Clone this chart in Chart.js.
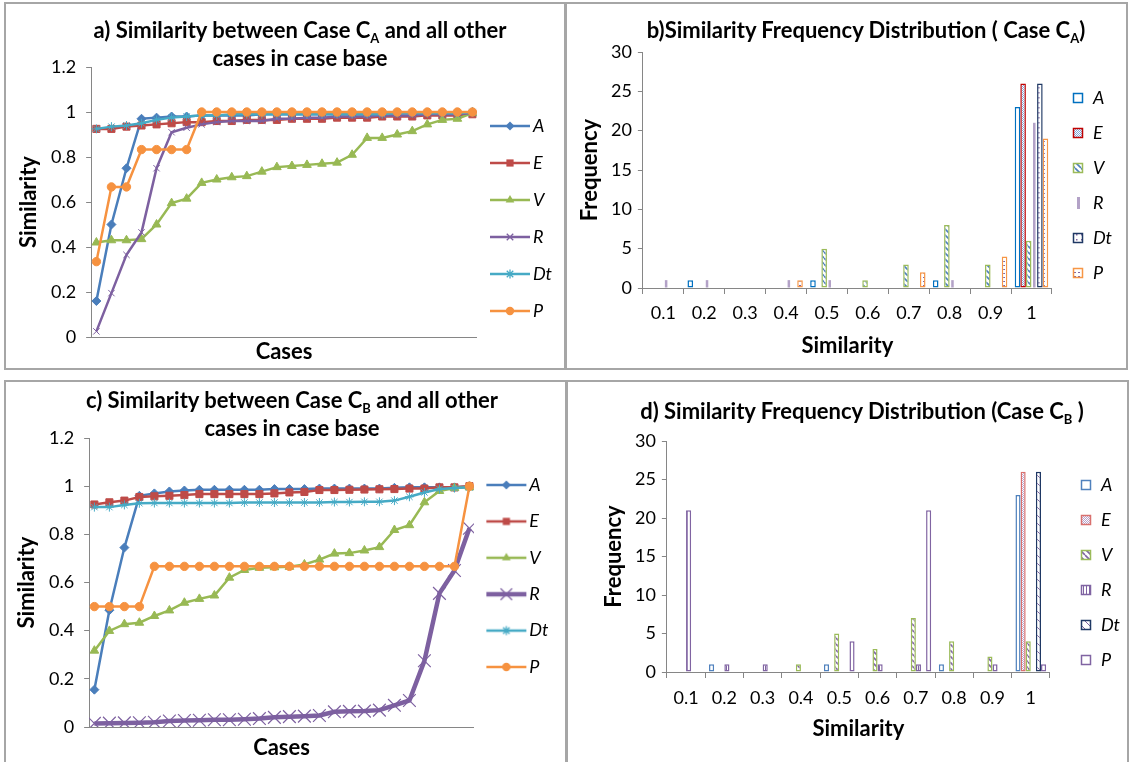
<!DOCTYPE html>
<html>
<head>
<meta charset="utf-8">
<script src="https://cdn.jsdelivr.net/npm/chart.js@4.4.1/dist/chart.umd.min.js"></script>
<style>
body { margin:0; background:#fff; width:1130px; height:762px; overflow:hidden; position:relative; font-family:Lato, sans-serif; }
canvas { position:absolute; }
.box { position:absolute; border:2px solid #a6a6a6; box-sizing:border-box; }
.ttl { position:absolute; font-weight:bold; font-size:22px; line-height:28px; text-align:center; color:#000; white-space:nowrap; width:600px; }
.ttl sub { font-size:13px; vertical-align:-5px; line-height:0; }
</style>
</head>
<body>
<div class="box" style="left:4px;top:2px;width:562px;height:368px"></div>
<div class="box" style="left:565px;top:2px;width:563px;height:368px"></div>
<div class="box" style="left:4px;top:380px;width:563px;height:400px"></div>
<div class="box" style="left:566px;top:380px;width:563px;height:400px"></div>

<canvas id="ca" width="565" height="369" style="left:0;top:0"></canvas>
<canvas id="cb" width="564" height="369" style="left:566px;top:0"></canvas>
<canvas id="cc" width="566" height="382" style="left:0;top:380px"></canvas>
<canvas id="cd" width="564" height="382" style="left:566px;top:380px"></canvas>

<div class="ttl" style="left:0px;top:16px">a) Similarity between Case C<sub>A</sub> and all other<br>cases in case base</div>
<div class="ttl" style="left:566px;top:16px">b)Similarity Frequency Distribution ( Case C<sub>A</sub>)</div>
<div class="ttl" style="left:-8px;top:386px">c) Similarity between Case C<sub>B</sub> and all other<br>cases in case base</div>
<div class="ttl" style="left:562px;top:397px">d) Similarity Frequency Distribution (Case C<sub>B</sub> )</div>

<script>
// cases 1..26 on the x axis of the line charts
const cases = [1,2,3,4,5,6,7,8,9,10,11,12,13,14,15,16,17,18,19,20,21,22,23,24,25,26];
const seriesNames = ["A", "E", "V", "R", "Dt", "P"];

// a) similarity to case CA
const caseA_A  = [0.16,0.50,0.75,0.97,0.975,0.98,0.98,0.985,0.985,0.985,0.985,0.99,0.99,0.99,0.99,0.99,0.99,0.99,0.99,0.99,0.995,0.995,0.995,0.995,0.995,1];
const caseA_E  = [0.925,0.925,0.935,0.94,0.945,0.95,0.955,0.955,0.96,0.96,0.965,0.965,0.965,0.97,0.97,0.97,0.975,0.975,0.975,0.98,0.98,0.98,0.985,0.985,0.985,0.99];
const caseA_V  = [0.42,0.43,0.43,0.435,0.50,0.595,0.615,0.685,0.70,0.71,0.715,0.735,0.755,0.76,0.765,0.77,0.775,0.81,0.885,0.885,0.90,0.915,0.945,0.965,0.97,0.995];
const caseA_R  = [0.025,0.195,0.365,0.465,0.75,0.91,0.93,0.945,0.955,0.96,0.96,0.96,0.97,0.97,0.975,0.975,0.98,0.98,0.98,0.985,0.985,0.985,0.99,0.99,0.99,0.995];
const caseA_Dt = [0.925,0.935,0.94,0.95,0.965,0.975,0.98,0.985,0.985,0.99,0.99,0.99,0.99,0.99,0.99,0.99,0.99,0.99,0.99,0.99,0.995,0.995,0.995,0.995,0.995,1];
const caseA_P  = [0.335,0.667,0.667,0.833,0.833,0.833,0.833,1,1,1,1,1,1,1,1,1,1,1,1,1,1,1,1,1,1,1];

// c) similarity to case CB
const caseB_A  = [0.155,0.485,0.745,0.96,0.97,0.978,0.982,0.985,0.985,0.985,0.985,0.985,0.988,0.988,0.988,0.99,0.99,0.99,0.99,0.99,0.993,0.995,0.995,0.995,0.995,1];
const caseB_E  = [0.924,0.933,0.94,0.955,0.958,0.96,0.963,0.967,0.967,0.967,0.967,0.967,0.97,0.974,0.976,0.984,0.984,0.985,0.986,0.987,0.988,0.99,0.99,0.995,0.995,1];
const caseB_V  = [0.317,0.399,0.427,0.433,0.461,0.484,0.516,0.532,0.546,0.62,0.652,0.661,0.663,0.665,0.675,0.695,0.72,0.722,0.733,0.747,0.818,0.838,0.933,0.98,0.992,0.995];
const caseB_R  = [0.015,0.016,0.017,0.018,0.02,0.025,0.027,0.028,0.03,0.03,0.032,0.035,0.04,0.043,0.045,0.048,0.063,0.065,0.066,0.07,0.09,0.11,0.275,0.555,0.65,0.825];
const caseB_Dt = [0.913,0.913,0.922,0.929,0.93,0.93,0.93,0.93,0.93,0.93,0.932,0.932,0.932,0.932,0.932,0.932,0.934,0.934,0.935,0.935,0.94,0.956,0.974,0.988,0.992,0.995];
const caseB_P  = [0.5,0.5,0.5,0.5,0.667,0.667,0.667,0.667,0.667,0.667,0.667,0.667,0.667,0.667,0.667,0.667,0.667,0.667,0.667,0.667,0.667,0.667,0.667,0.667,0.667,1];

// b) and d) frequency per similarity bin
const bins = ["0.1","0.2","0.3","0.4","0.5","0.6","0.7","0.8","0.9","1"];
const histA_A  = [0,1,0,0,1,0,0,1,0,23];
const histA_E  = [0,0,0,0,0,0,0,0,0,26];
const histA_V  = [0,0,0,0,5,1,3,8,3,6];
const histA_R  = [1,1,0,1,1,0,0,1,0,21];
const histA_Dt = [0,0,0,0,0,0,0,0,0,26];
const histA_P  = [0,0,0,1,0,0,2,0,4,19];

const histB_A  = [0,1,0,0,1,0,0,1,0,23];
const histB_E  = [0,0,0,0,0,0,0,0,0,26];
const histB_V  = [0,0,0,1,5,3,7,4,2,4];
const histB_R  = [21,1,1,0,0,1,1,0,1,0];
const histB_Dt = [0,0,0,0,0,0,0,0,0,26];
const histB_P  = [0,0,0,0,4,0,21,0,0,1];

Chart.defaults.font.family = "Lato, sans-serif";
Chart.defaults.color = "#000";
const gray = "#868686";
const colA = "#4A7EBB", colE = "#BE4B48", colV = "#98B954", colR = "#7D60A0", colDt = "#46AAC5", colP = "#F69240";
const tickFont = { size: 18 };
const axisFont = { size: 22, weight: "bold" };

// ---------- helpers ----------
function pattern(size, draw) {
  const c = document.createElement("canvas");
  c.width = size; c.height = size;
  const g = c.getContext("2d");
  g.fillStyle = "#fff"; g.fillRect(0, 0, size, size);
  draw(g, size);
  return g.createPattern(c, "repeat");
}
const checker = col => pattern(2, g => { g.fillStyle = col; g.fillRect(0, 0, 1, 1); g.fillRect(1, 1, 1, 1); });
const diag = (col, s, w) => pattern(s, g => {
  g.strokeStyle = col; g.lineWidth = w; g.beginPath();
  [-s, 0, s].forEach(k => { g.moveTo(k, 0); g.lineTo(k + s, s); });
  g.stroke();
});
const dots = col => pattern(5, g => { g.fillStyle = col; g.fillRect(2, 2, 1.5, 1.5); });
const dashes = col => pattern(4, g => { g.fillStyle = col; g.fillRect(1, 1, 2, 1); });
const vlines = col => pattern(3, g => { g.fillStyle = col; g.fillRect(1, 0, 1, 3); });

function lineIcon(color, style, lw, r) {
  const c = document.createElement("canvas");
  c.width = 42; c.height = 22;
  const g = c.getContext("2d");
  const cx = 21, cy = 11;
  g.strokeStyle = color; g.fillStyle = color; g.lineWidth = lw;
  g.beginPath(); g.moveTo(1, cy); g.lineTo(41, cy); g.stroke();
  g.lineWidth = 1.3; g.beginPath();
  const d = r * 0.72;
  if (style === "rectRot") { g.moveTo(cx, cy - r); g.lineTo(cx + r, cy); g.lineTo(cx, cy + r); g.lineTo(cx - r, cy); g.closePath(); g.fill(); }
  if (style === "rect") { g.fillRect(cx - d, cy - d, 2 * d, 2 * d); }
  if (style === "triangle") { g.moveTo(cx, cy - r); g.lineTo(cx + r * 0.87, cy + r * 0.5); g.lineTo(cx - r * 0.87, cy + r * 0.5); g.closePath(); g.fill(); }
  if (style === "crossRot" || style === "star") { g.moveTo(cx - d, cy - d); g.lineTo(cx + d, cy + d); g.moveTo(cx + d, cy - d); g.lineTo(cx - d, cy + d); }
  if (style === "star") { g.moveTo(cx, cy - r); g.lineTo(cx, cy + r); g.moveTo(cx - r, cy); g.lineTo(cx + r, cy); }
  if (style === "crossRot" || style === "star") g.stroke();
  if (style === "circle") { g.arc(cx, cy, r, 0, Math.PI * 2); g.fill(); }
  return c;
}

function boxIcon(w, fill, border, thin) {
  const c = document.createElement("canvas");
  c.width = w; c.height = 12;
  const g = c.getContext("2d");
  if (thin) { g.fillStyle = fill; g.fillRect(w - 7, 0, 3, 12); return c; }
  g.fillStyle = fill; g.fillRect(w - 10.5, 1.5, 9, 9);
  g.strokeStyle = border; g.lineWidth = 1.5; g.strokeRect(w - 10.5, 1.5, 9, 9);
  return c;
}

function iconLegend(icons, padding, iconWidth, titlePad) {
  return {
    position: "right",
    align: "start",
    title: { display: true, text: " ", font: { size: 12 }, padding: { top: titlePad, bottom: 0 } },
    labels: {
      usePointStyle: true, pointStyleWidth: iconWidth, padding: padding,
      font: { size: 18, style: "italic" }, color: "#000",
      generateLabels: ch => ch.data.datasets.map((ds, i) => ({
        text: ds.label, pointStyle: icons[i], datasetIndex: i,
        fillStyle: "#fff", strokeStyle: "#fff", lineWidth: 0, hidden: false
      }))
    }
  };
}

function lineSet(label, data, color, style, r, w, order, pbw) {
  return {
    label: label, data: data, borderColor: color, backgroundColor: color,
    pointStyle: style, pointRadius: r, pointBorderColor: color, pointBackgroundColor: color,
    pointBorderWidth: pbw || 1, borderWidth: w, tension: 0, order: order
  };
}

function lineOptions(pad, xTitlePad, xTitleBottom, legend) {
  return {
    responsive: false, animation: false,
    layout: { padding: pad },
    plugins: { legend: legend, tooltip: { enabled: false } },
    scales: {
      x: {
        type: "linear", min: 0.65, max: 26.3,
        grid: { display: false, drawTicks: false },
        border: { color: gray, width: 1 },
        ticks: { display: false },
        title: { display: true, text: "Cases", font: axisFont, color: "#000", padding: { top: xTitlePad, bottom: xTitleBottom } }
      },
      y: {
        min: 0, max: 1.2,
        ticks: { stepSize: 0.2, padding: 10, font: tickFont, color: "#000", callback: v => String(Number(v.toFixed(2))) },
        grid: { drawOnChartArea: false, tickLength: 5, color: gray },
        border: { color: gray, width: 1 },
        title: { display: true, text: "Similarity", font: { size: 22, weight: "bold", lineHeight: 1 }, color: "#000", padding: { top: 0, bottom: 1 } }
      }
    }
  };
}

function barOptions(pad, xTickPad, xTitlePad, yTitlePad, legend) {
  return {
    responsive: false, animation: false,
    layout: { padding: pad },
    plugins: { legend: legend, tooltip: { enabled: false } },
    scales: {
      x: {
        grid: { offset: true, drawOnChartArea: false, tickLength: 6, color: gray },
        border: { color: gray, width: 1 },
        ticks: { font: tickFont, color: "#000", padding: xTickPad, maxRotation: 0, autoSkip: false },
        title: { display: true, text: "Similarity", font: axisFont, color: "#000", padding: { top: xTitlePad, bottom: 2 } }
      },
      y: {
        min: 0, max: 30,
        ticks: { stepSize: 5, padding: 6, font: tickFont, color: "#000" },
        grid: { drawOnChartArea: false, tickLength: 5, color: gray },
        border: { color: gray, width: 1 },
        title: { display: true, text: "Frequency", font: axisFont, color: "#000", padding: { top: 0, bottom: yTitlePad } }
      }
    }
  };
}

function barSet(label, data, fill, border, catPct, extra) {
  return Object.assign({
    label: label, data: data, backgroundColor: fill, borderColor: border,
    borderWidth: 1.5, borderSkipped: false, categoryPercentage: catPct, barPercentage: 1
  }, extra || {});
}

// ---------- a) ----------
const iconsA = [
  lineIcon(colA, "rectRot", 2.5, 4.5), lineIcon(colE, "rect", 2.5, 5), lineIcon(colV, "triangle", 2.5, 5),
  lineIcon(colR, "crossRot", 2.5, 4.5), lineIcon(colDt, "star", 2.5, 4.5), lineIcon(colP, "circle", 2.5, 4.2)
];
new Chart(document.getElementById("ca"), {
  type: "line",
  data: {
    labels: cases,
    datasets: [
      lineSet(seriesNames[0], caseA_A, colA, "rectRot", 4.5, 2.5, 6),
      lineSet(seriesNames[1], caseA_E, colE, "rect", 5, 2.5, 5),
      lineSet(seriesNames[2], caseA_V, colV, "triangle", 5, 2.5, 4),
      lineSet(seriesNames[3], caseA_R, colR, "crossRot", 4.5, 2.5, 3),
      lineSet(seriesNames[4], caseA_Dt, colDt, "star", 4.5, 2.5, 2),
      lineSet(seriesNames[5], caseA_P, colP, "circle", 4.2, 2.5, 1)
    ]
  },
  options: lineOptions({ left: 18, right: 3, top: 67, bottom: 1.8 }, 1.8, 2, iconLegend(iconsA, 19, 28, 16.6))
});

// ---------- c) ----------
const iconsC = [
  lineIcon(colA, "rectRot", 2.5, 4.5), lineIcon(colE, "rect", 2.5, 5), lineIcon(colV, "triangle", 2.5, 5),
  lineIcon(colR, "crossRot", 4.5, 8), lineIcon(colDt, "star", 2.5, 4.5), lineIcon(colP, "circle", 2.5, 4.2)
];
new Chart(document.getElementById("cc"), {
  type: "line",
  data: {
    labels: cases,
    datasets: [
      lineSet(seriesNames[0], caseB_A, colA, "rectRot", 4.5, 2.5, 6),
      lineSet(seriesNames[1], caseB_E, colE, "rect", 5, 2.5, 5),
      lineSet(seriesNames[2], caseB_V, colV, "triangle", 5, 2.5, 4),
      lineSet(seriesNames[3], caseB_R, colR, "crossRot", 9, 4.5, 3, 1.2),
      lineSet(seriesNames[4], caseB_Dt, colDt, "star", 4.5, 2.5, 2),
      lineSet(seriesNames[5], caseB_P, colP, "circle", 4.2, 2.5, 1)
    ]
  },
  options: lineOptions({ left: 16, right: 7.6, top: 58, bottom: 0.3 }, 7.8, 0.5, iconLegend(iconsC, 18.4, 28, 5.2))
});

// ---------- b) ----------
const fillsB = ["#fff", checker("#7FA6DA"), diag("#4F81BD", 6, 1.6), "#B3A2C7", dots("#8064A2"), dashes("#8064A2")];
const bordersB = ["#0070C0", "#C00000", "#9BBB59", "#B3A2C7", "#1F3864", "#F79646"];
const iconsB = fillsB.map((f, i) => boxIcon(15, f, bordersB[i], i === 3));
new Chart(document.getElementById("cb"), {
  type: "bar",
  data: {
    labels: bins,
    datasets: [
      barSet(seriesNames[0], histA_A, fillsB[0], bordersB[0], 0.82),
      barSet(seriesNames[1], histA_E, fillsB[1], bordersB[1], 0.82),
      barSet(seriesNames[2], histA_V, fillsB[2], bordersB[2], 0.82),
      barSet(seriesNames[3], histA_R, fillsB[3], bordersB[3], 0.82, { borderWidth: 0, barPercentage: 0.45 }),
      barSet(seriesNames[4], histA_Dt, fillsB[4], bordersB[4], 0.82),
      barSet(seriesNames[5], histA_P, fillsB[5], bordersB[5], 0.82)
    ]
  },
  options: barOptions({ left: 10.8, right: 8, top: 52, bottom: 7.8 }, 8.2, 0.8, 1.8, iconLegend(iconsB, 17, 15, 5.6))
});

// ---------- d) ----------
const fillsD = ["#fff", checker("#B8A3CC"), diag("#8064A2", 6, 1.6), vlines("#8064A2"), diag("#8064A2", 8, 1), "#fff"];
const bordersD = ["#4F81BD", "#D9706E", "#9BBB59", "#8064A2", "#1F3864", "#8064A2"];
const iconsD = fillsD.map((f, i) => boxIcon(25, f, bordersD[i], false));
new Chart(document.getElementById("cd"), {
  type: "bar",
  data: {
    labels: bins,
    datasets: [
      barSet(seriesNames[0], histB_A, fillsD[0], bordersD[0], 0.8),
      barSet(seriesNames[1], histB_E, fillsD[1], bordersD[1], 0.8),
      barSet(seriesNames[2], histB_V, fillsD[2], bordersD[2], 0.8),
      barSet(seriesNames[3], histB_R, fillsD[3], bordersD[3], 0.8),
      barSet(seriesNames[4], histB_Dt, fillsD[4], bordersD[4], 0.8),
      barSet(seriesNames[5], histB_P, fillsD[5], bordersD[5], 0.8)
    ]
  },
  options: barOptions({ left: 34.8, right: 0, top: 61, bottom: 18 }, 9, -2, 1.8, iconLegend(iconsD, 17, 25, 3.6))
});
</script>
</body>
</html>
